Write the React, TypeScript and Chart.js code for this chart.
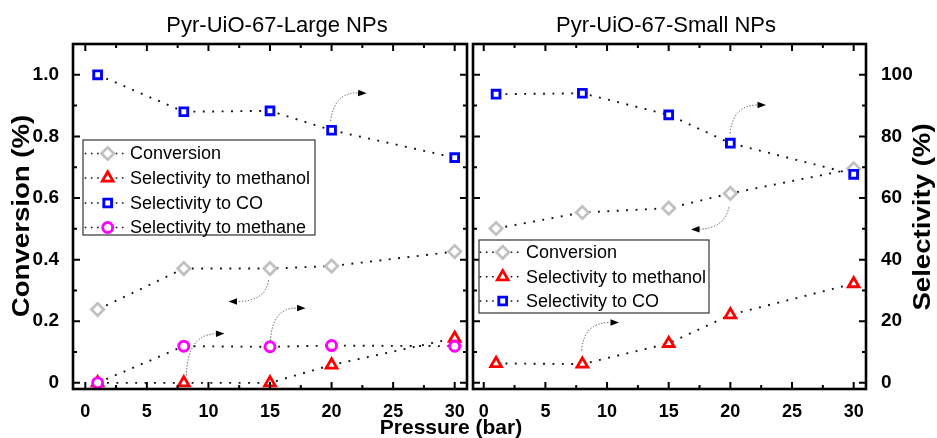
import React, { useEffect, useRef } from 'react';
import { Chart, registerables } from 'chart.js';

Chart.register(...registerables);

// ---------- data ----------
const pressure = [1, 8, 15, 20, 30];

// Pyr-UiO-67-Large NPs
const largeConversion = [0.238, 0.371, 0.371, 0.379, 0.426];
const largeMethanol = [0, 0, 0, 5.8, 14.5];
const largeCO = [100, 88.0, 88.3, 82.0, 73.1];
const largeMethane = [0, 11.9, 11.7, 12.1, 11.9];

// Pyr-UiO-67-Small NPs
const smallConversion = [0.501, 0.553, 0.567, 0.615, 0.695];
const smallMethanol = [6.3, 6.1, 12.8, 22.1, 32.2];
const smallCO = [93.7, 94.0, 87.0, 77.8, 67.7];

const xTicks = [0, 5, 10, 15, 20, 25, 30];
const xMinorTicks = [2.5, 7.5, 12.5, 17.5, 22.5, 27.5];
const conversionTicks = [0, 0.2, 0.4, 0.6, 0.8, 1.0];
const conversionTickLabels = ['0', '0.2', '0.4', '0.6', '0.8', '1.0'];
const conversionMinorTicks = [0.1, 0.3, 0.5, 0.7, 0.9];
const selectivityTicks = [0, 20, 40, 60, 80, 100];
const selectivityTickLabels = ['0', '20', '40', '60', '80', '100'];

const seriesNames = ['Conversion', 'Selectivity to methanol', 'Selectivity to CO', 'Selectivity to methane'];

// annotation arrows (data coordinates: pressure, conversion)
const largeArrows = [
  { from: [19.92, 0.85], via: [20.24, 0.944], to: [22.85, 0.94] },
  { from: [14.88, 0.333], via: [14.63, 0.264], to: [11.63, 0.264] },
  { from: [8.21, 0.024], via: [8.29, 0.157], to: [11.3, 0.16] },
  { from: [15.04, 0.137], via: [15.2, 0.245], to: [17.89, 0.242] },
];
const smallArrows = [
  { from: [19.98, 0.81], via: [20.22, 0.902], to: [22.89, 0.902] },
  { from: [19.89, 0.57], via: [19.49, 0.501], to: [16.81, 0.498] },
  { from: [7.94, 0.105], via: [8.1, 0.196], to: [10.97, 0.196] },
];

// ---------- styles ----------
const FONT = '"Liberation Sans", Arial, Helvetica, sans-serif';
const STYLES: Record<string, { shape: string; color: string; r: number; w: number }> = {
  conv: { shape: 'rectRot', color: '#c0c0c0', r: 6.2, w: 2.7 },
  meoh: { shape: 'triangle', color: '#ff0000', r: 6.2, w: 2.8 },
  co: { shape: 'rect', color: '#0000ff', r: 5.5, w: 2.9 },
  ch4: { shape: 'circle', color: '#ff00ff', r: 5.0, w: 2.9 },
};

function dataset(label: string, values: number[], yAxisID: string, key: string, order: number) {
  const s = STYLES[key];
  return {
    label,
    data: pressure.map((p, i) => ({ x: p, y: values[i] })),
    yAxisID,
    order,
    borderColor: '#111',
    borderWidth: 1.9,
    borderDash: [1.9, 7.5],
    tension: 0,
    fill: false,
    pointStyle: s.shape,
    pointRadius: s.r,
    pointBorderColor: s.color,
    pointBackgroundColor: '#fff',
    pointBorderWidth: s.w,
  };
}

function drawMarker(ctx: CanvasRenderingContext2D, key: string, x: number, y: number) {
  const s = STYLES[key];
  const r = s.r;
  ctx.save();
  ctx.beginPath();
  if (s.shape === 'circle') ctx.arc(x, y, r, 0, Math.PI * 2);
  else if (s.shape === 'rect') {
    const h = r * Math.SQRT1_2;
    ctx.rect(x - h, y - h, 2 * h, 2 * h);
  } else if (s.shape === 'rectRot') {
    ctx.moveTo(x - r, y);
    ctx.lineTo(x, y - r);
    ctx.lineTo(x + r, y);
    ctx.lineTo(x, y + r);
    ctx.closePath();
  } else {
    ctx.moveTo(x, y - r);
    ctx.lineTo(x + 0.866 * r, y + 0.5 * r);
    ctx.lineTo(x - 0.866 * r, y + 0.5 * r);
    ctx.closePath();
  }
  ctx.fillStyle = '#fff';
  ctx.fill();
  ctx.lineWidth = s.w;
  ctx.lineJoin = 'miter';
  ctx.strokeStyle = s.color;
  ctx.stroke();
  ctx.restore();
}

function drawFrame(chart: any) {
  const { ctx, chartArea: a } = chart;
  const xs = chart.scales.x;
  const ys = chart.scales.y;
  ctx.save();
  ctx.strokeStyle = '#000';
  ctx.lineWidth = 2;
  ctx.beginPath();
  const vx = (v: number, len: number) => {
    const p = xs.getPixelForValue(v);
    ctx.moveTo(p, a.bottom);
    ctx.lineTo(p, a.bottom - len);
    ctx.moveTo(p, a.top);
    ctx.lineTo(p, a.top + len);
  };
  const hy = (v: number, len: number) => {
    const p = ys.getPixelForValue(v);
    ctx.moveTo(a.left, p);
    ctx.lineTo(a.left + len, p);
    ctx.moveTo(a.right, p);
    ctx.lineTo(a.right - len, p);
  };
  xTicks.forEach((v) => vx(v, 7));
  xMinorTicks.forEach((v) => vx(v, 4));
  conversionTicks.forEach((v) => hy(v, 7));
  conversionMinorTicks.forEach((v) => hy(v, 4));
  ctx.stroke();
  ctx.lineWidth = 2.6;
  ctx.strokeRect(a.left, a.top, a.right - a.left, a.bottom - a.top);
  ctx.restore();
}

function drawArrows(chart: any, arrows: any[]) {
  const { ctx } = chart;
  const xs = chart.scales.x;
  const ys = chart.scales.y;
  arrows.forEach((ar) => {
    const x0 = xs.getPixelForValue(ar.from[0]);
    const y0 = ys.getPixelForValue(ar.from[1]);
    const cx = xs.getPixelForValue(ar.via[0]);
    const cy = ys.getPixelForValue(ar.via[1]);
    const x1 = xs.getPixelForValue(ar.to[0]);
    const y1 = ys.getPixelForValue(ar.to[1]);
    const ang = Math.atan2(y1 - cy, x1 - cx);
    const L = 8.5;
    const W = 3.3;
    const bx = x1 - Math.cos(ang) * L;
    const by = y1 - Math.sin(ang) * L;
    ctx.save();
    ctx.strokeStyle = '#444';
    ctx.lineWidth = 1;
    ctx.setLineDash([1.2, 1.8]);
    ctx.beginPath();
    ctx.moveTo(x0, y0);
    ctx.quadraticCurveTo(cx, cy, bx, by);
    ctx.stroke();
    ctx.setLineDash([]);
    ctx.fillStyle = '#000';
    ctx.beginPath();
    ctx.moveTo(x1, y1);
    ctx.lineTo(bx + Math.sin(ang) * W, by - Math.cos(ang) * W);
    ctx.lineTo(bx - Math.sin(ang) * W, by + Math.cos(ang) * W);
    ctx.closePath();
    ctx.fill();
    ctx.restore();
  });
}

function drawLegend(
  chart: any,
  box: { x: number; y: number; w: number; h: number },
  rows: number[],
  markerX: number,
  textX: number,
  keys: string[]
) {
  const { ctx } = chart;
  ctx.save();
  ctx.fillStyle = '#fff';
  ctx.fillRect(box.x, box.y, box.w, box.h);
  ctx.strokeStyle = '#333';
  ctx.lineWidth = 1.2;
  ctx.strokeRect(box.x, box.y, box.w, box.h);
  keys.forEach((k, i) => {
    const y = rows[i];
    ctx.save();
    ctx.strokeStyle = '#111';
    ctx.lineWidth = 1.6;
    ctx.setLineDash([1.6, 4.6]);
    ctx.beginPath();
    ctx.moveTo(markerX - 23, y);
    ctx.lineTo(markerX + 18, y);
    ctx.stroke();
    ctx.restore();
    drawMarker(ctx, k, markerX, y);
    ctx.fillStyle = '#000';
    ctx.font = `18px ${FONT}`;
    ctx.textAlign = 'left';
    ctx.textBaseline = 'middle';
    ctx.fillText(seriesNames[i], textX, y + 1);
  });
  ctx.restore();
}

function rotatedTitle(ctx: CanvasRenderingContext2D, text: string, baseX: number, cy: number) {
  ctx.save();
  ctx.translate(baseX, cy);
  ctx.rotate(-Math.PI / 2);
  ctx.scale(1.2, 1);
  ctx.font = `bold 23px ${FONT}`;
  ctx.fillStyle = '#000';
  ctx.textAlign = 'center';
  ctx.textBaseline = 'alphabetic';
  ctx.fillText(text, 0, 0);
  ctx.restore();
}

function scalesFor(side: 'left' | 'right', xMin: number) {
  const tickFont = { family: FONT, size: 19, weight: 'bold' as const };
  return {
    x: {
      type: 'linear' as const,
      position: 'bottom' as const,
      min: xMin,
      max: 31,
      grid: { display: false },
      border: { display: false },
      afterBuildTicks: (s: any) => {
        s.ticks = xTicks.map((v) => ({ value: v }));
      },
      afterFit: (s: any) => {
        s.height = 49;
      },
      ticks: {
        font: { family: FONT, size: 18, weight: 'bold' as const },
        color: '#000',
        padding: 4,
        maxRotation: 0,
        autoSkip: false,
        callback: (v: any) => String(v),
      },
    },
    y: {
      type: 'linear' as const,
      position: 'left' as const,
      display: side === 'left',
      min: -0.02,
      max: 1.1,
      grid: { display: false },
      border: { display: false },
      afterBuildTicks: (s: any) => {
        s.ticks = conversionTicks.map((v) => ({ value: v }));
      },
      afterFit: (s: any) => {
        s.width = side === 'left' ? 73 : 0;
      },
      ticks: {
        font: tickFont,
        color: '#000',
        padding: 6,
        callback: (_v: any, i: number) => conversionTickLabels[i],
      },
    },
    y1: {
      type: 'linear' as const,
      position: 'right' as const,
      display: side === 'right',
      min: -2,
      max: 110,
      grid: { display: false },
      border: { display: false },
      afterBuildTicks: (s: any) => {
        s.ticks = selectivityTicks.map((v) => ({ value: v }));
      },
      afterFit: (s: any) => {
        s.width = side === 'right' ? 71 : 0;
      },
      ticks: {
        font: tickFont,
        color: '#000',
        padding: 7,
        callback: (_v: any, i: number) => selectivityTickLabels[i],
      },
    },
  };
}

function leftConfig(): any {
  return {
    type: 'line',
    data: {
      datasets: [
        dataset(seriesNames[0], largeConversion, 'y', 'conv', 3),
        dataset(seriesNames[1], largeMethanol, 'y1', 'meoh', 2),
        dataset(seriesNames[2], largeCO, 'y1', 'co', 1),
        dataset(seriesNames[3], largeMethane, 'y1', 'ch4', 0),
      ],
    },
    options: {
      responsive: false,
      animation: false,
      devicePixelRatio: 1,
      layout: { padding: { top: 44, left: 0, right: 470, bottom: 0 } },
      plugins: { legend: { display: false }, title: { display: false }, tooltip: { enabled: false } },
      scales: scalesFor('left', -1),
    },
    plugins: [
      {
        id: 'decorLeft',
        afterDatasetsDraw(chart: any) {
          drawFrame(chart);
          drawArrows(chart, largeArrows);
          drawLegend(chart, { x: 83, y: 140, w: 232, h: 95 }, [153.5, 178, 203, 227.5], 107.7, 130, [
            'conv',
            'meoh',
            'co',
            'ch4',
          ]);
        },
        afterDraw(chart: any) {
          const { ctx } = chart;
          ctx.save();
          ctx.fillStyle = '#000';
          ctx.font = `22px ${FONT}`;
          ctx.textAlign = 'center';
          ctx.textBaseline = 'alphabetic';
          ctx.fillText('Pyr-UiO-67-Large NPs', 277, 32);
          ctx.font = `bold 21px ${FONT}`;
          ctx.fillText('Pressure (bar)', 451, 433.5);
          ctx.restore();
          rotatedTitle(ctx, 'Conversion (%)', 28.5, 216);
        },
      },
    ],
  };
}

function rightConfig(): any {
  return {
    type: 'line',
    data: {
      datasets: [
        dataset(seriesNames[0], smallConversion, 'y', 'conv', 3),
        dataset(seriesNames[1], smallMethanol, 'y1', 'meoh', 2),
        dataset(seriesNames[2], smallCO, 'y1', 'co', 1),
      ],
    },
    options: {
      responsive: false,
      animation: false,
      devicePixelRatio: 1,
      layout: { padding: { top: 44, left: 473, right: 0, bottom: 0 } },
      plugins: { legend: { display: false }, title: { display: false }, tooltip: { enabled: false } },
      scales: scalesFor('right', -0.87),
    },
    plugins: [
      {
        id: 'decorRight',
        afterDatasetsDraw(chart: any) {
          drawFrame(chart);
          drawArrows(chart, smallArrows);
          drawLegend(chart, { x: 479, y: 240, w: 230, h: 73 }, [252.3, 276.7, 301], 502.7, 526, [
            'conv',
            'meoh',
            'co',
          ]);
        },
        afterDraw(chart: any) {
          const { ctx } = chart;
          ctx.save();
          ctx.fillStyle = '#000';
          ctx.font = `22px ${FONT}`;
          ctx.textAlign = 'center';
          ctx.textBaseline = 'alphabetic';
          ctx.fillText('Pyr-UiO-67-Small NPs', 666, 32);
          ctx.restore();
          rotatedTitle(ctx, 'Selectivity (%)', 930, 217);
        },
      },
    ],
  };
}

export default function App() {
  const leftRef = useRef<HTMLCanvasElement>(null);
  const rightRef = useRef<HTMLCanvasElement>(null);

  useEffect(() => {
    Chart.defaults.font.family = FONT;
    const c1 = new Chart(leftRef.current as HTMLCanvasElement, leftConfig());
    const c2 = new Chart(rightRef.current as HTMLCanvasElement, rightConfig());
    return () => {
      c1.destroy();
      c2.destroy();
    };
  }, []);

  const canvasStyle: React.CSSProperties = { position: 'absolute', left: 0, top: 0, width: 937, height: 438 };
  return (
    <div style={{ position: 'fixed', left: 0, top: 0, width: 937, height: 438, background: '#fff' }}>
      <canvas ref={leftRef} width={937} height={438} style={canvasStyle} />
      <canvas ref={rightRef} width={937} height={438} style={canvasStyle} />
    </div>
  );
}
